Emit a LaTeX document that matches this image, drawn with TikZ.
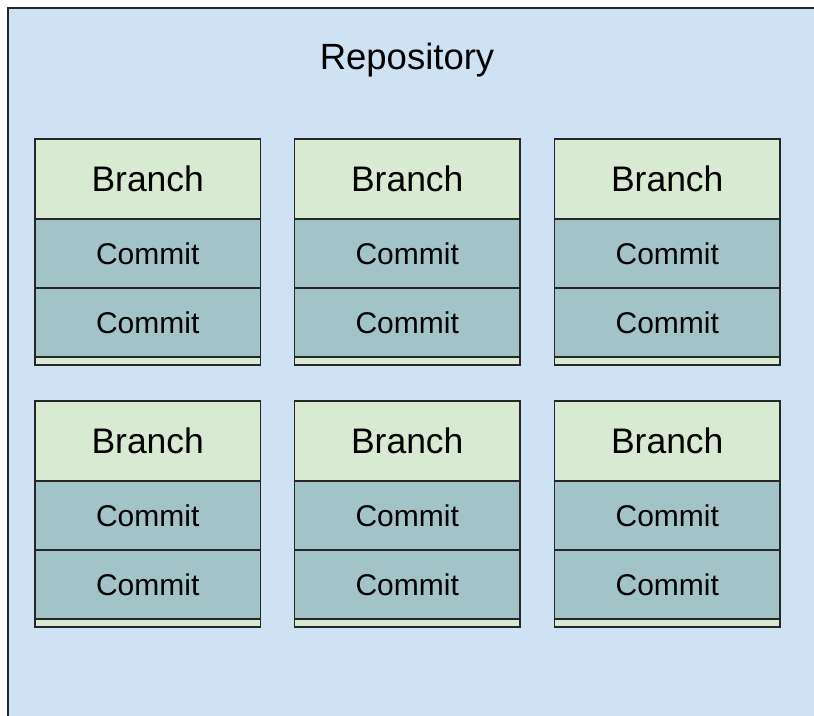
\documentclass[tikz,border=0pt]{standalone}
\usepackage{fontspec}
\setmainfont{Liberation Sans}
\definecolor{repo}{HTML}{CFE2F3}
\definecolor{branchc}{HTML}{D9EAD3}
\definecolor{commitc}{HTML}{A2C4C9}
\definecolor{edge}{HTML}{262626}
\tikzset{
  part/.style={draw=edge, line width=1.6pt, inner sep=0pt, outer sep=0pt,
    anchor=north west, minimum width=225.5pt},
  branchbox/.style={part, fill=branchc, minimum height=80pt,
    font=\fontsize{35.5}{40}\selectfont},
  commitbox/.style={part, fill=commitc, minimum height=69pt,
    font=\fontsize{30}{34}\selectfont},
  footbox/.style={part, fill=branchc, minimum height=8pt},
}
\begin{document}
\begin{tikzpicture}[x=1pt, y=-1pt]
\useasboundingbox (0,0) rectangle (814,715);
\fill[repo] (8,8) rectangle (830,730);
\draw[edge, line width=2pt] (8,730) -- (8,8) -- (830,8);
\node (repo) at (407,60) {\fontsize{36.5}{42}\selectfont Repository};
\foreach \cx [count=\ci] in {35,294.5,554.5} {
  \foreach \ry [count=\ri] in {139,401} {
    \node[branchbox] (b-\ci-\ri) at (\cx,\ry) {Branch};
    \node[commitbox] (c-\ci-\ri-1) at (b-\ci-\ri.south west) {Commit};
    \node[commitbox] (c-\ci-\ri-2) at (c-\ci-\ri-1.south west) {Commit};
    \node[footbox] (f-\ci-\ri) at (c-\ci-\ri-2.south west) {};
  }
}
\end{tikzpicture}
\end{document}
